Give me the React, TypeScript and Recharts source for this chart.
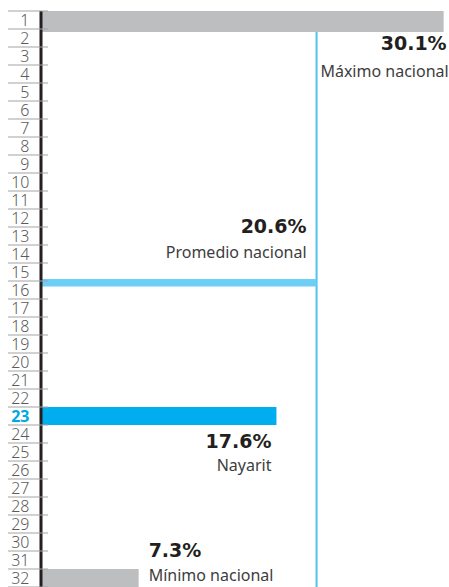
import { Bar, BarChart, LabelList, ReferenceLine, XAxis, YAxis } from "recharts";

// Ranking positions shown on the left rail
const ranks = [
  "1", "2", "3", "4", "5", "6", "7", "8", "9", "10", "11", "12", "13", "14", "15", "16",
  "17", "18", "19", "20", "21", "22", "23", "24", "25", "26", "27", "28", "29", "30", "31", "32",
];

const names = ["Máximo nacional", "Promedio nacional", "Nayarit", "Mínimo nacional"];
const values = [30.1, 20.6, 17.6, 7.3];
const positions = ["1", "16", "23", "32"];
const keys = ["max", "avg", "state", "min"];

const data = ranks.map((rank) => {
  const row: Record<string, string | number | null> = { rank };
  keys.forEach((k, i) => {
    row[k] = positions[i] === rank ? values[i] : null;
  });
  return row;
});

const DARK = "#231f20";
const GRAY_BAR = "#bcbec0";
const LIGHT_BLUE = "#6dcff6";
const BLUE = "#00aeef";
const ROW = 18;

const valueFont = { fontFamily: "DejaVu Sans", fontWeight: 700, fontSize: 19, fill: DARK };
const nameFont = { fontFamily: "Noto Sans", fontSize: 16, fill: "#3d3d3d" };

function RankTick(props: any) {
  const { y, payload, index } = props;
  const hi = payload.value === positions[2];
  return (
    <g>
      <line x1={8} x2={48} y1={y - ROW / 2} y2={y - ROW / 2} stroke="#a3a3a3" strokeWidth={1} />
      {index === ranks.length - 1 && (
        <line x1={8} x2={48} y1={y + ROW / 2} y2={y + ROW / 2} stroke="#a3a3a3" strokeWidth={1} />
      )}
      <text
        x={29.5}
        y={y + 5.5}
        textAnchor="end"
        fontFamily="Noto Sans"
        fontSize={16}
        fontWeight={hi ? 700 : 300}
        fill={hi ? "#00a9e0" : "#5a5a5a"}
      >
        {payload.value}
      </text>
    </g>
  );
}

// label placement differs per marker, like in the printed graphic
function makeLabel(i: number) {
  return (props: any) => {
    const { x, y, width, height, value } = props;
    if (value == null) return null;
    const end = Number(x) + Number(width);
    const top = Number(y);
    const bottom = top + Number(height);
    const txt = `${values[i]}%`;
    let vx = 0, vy = 0, nx = 0, ny = 0;
    let anchor: "start" | "end" = "end";
    if (i === 0) {
      vx = end + 3; vy = top + 39; nx = end + 5; ny = top + 65.5;
    } else if (i === 1) {
      vx = end - 10; vy = top - 48; nx = end - 10; ny = top - 23.5;
    } else if (i === 2) {
      vx = end - 5; vy = bottom + 23; nx = end - 5; ny = bottom + 46;
    } else {
      anchor = "start";
      vx = end + 10; vy = top - 12; nx = end + 10; ny = top + 12;
    }
    return (
      <g>
        <text x={vx} y={vy} textAnchor={anchor} {...valueFont}>{txt}</text>
        <text x={nx} y={ny} textAnchor={anchor} {...nameFont}>{names[i]}</text>
      </g>
    );
  };
}

const MaxShape = (p: any) =>
  p.width ? <rect x={p.x} y={p.y} width={p.width} height={p.height + 3} fill={GRAY_BAR} /> : null;

const AvgShape = (p: any) =>
  p.width ? <rect x={p.x} y={p.y - 2} width={p.width} height={7.5} fill={LIGHT_BLUE} /> : null;

export default function App() {
  return (
    <div style={{ position: "absolute", left: 0, top: 0, background: "#fff" }}>
      <BarChart
        width={449}
        height={587}
        data={data}
        layout="vertical"
        margin={{ top: 11, right: 0, bottom: 0, left: 0 }}
        barCategoryGap={0}
      >
        <XAxis type="number" hide domain={[0, 30.5]} />
        <YAxis
          type="category"
          dataKey="rank"
          width={41}
          interval={0}
          tickLine={false}
          axisLine={{ stroke: DARK, strokeWidth: 3 }}
          tick={<RankTick />}
        />
        <ReferenceLine x={values[1]} stroke="#4fc2ee" strokeWidth={2} zIndex={100} />
        <Bar dataKey="max" stackId="r" fill={GRAY_BAR} shape={<MaxShape />} isAnimationActive={false}>
          <LabelList dataKey="max" content={makeLabel(0)} />
        </Bar>
        <Bar dataKey="avg" stackId="r" fill={LIGHT_BLUE} shape={<AvgShape />} isAnimationActive={false}>
          <LabelList dataKey="avg" content={makeLabel(1)} />
        </Bar>
        <Bar dataKey="state" stackId="r" fill={BLUE} isAnimationActive={false}>
          <LabelList dataKey="state" content={makeLabel(2)} />
        </Bar>
        <Bar dataKey="min" stackId="r" fill={GRAY_BAR} isAnimationActive={false}>
          <LabelList dataKey="min" content={makeLabel(3)} />
        </Bar>
      </BarChart>
    </div>
  );
}
